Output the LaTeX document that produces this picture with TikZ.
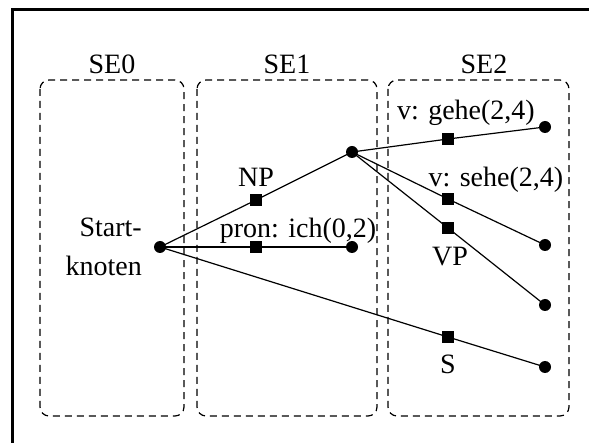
\documentclass[tikz,border=0pt]{standalone}
\usepackage{fontspec}
\setmainfont{Liberation Serif}
\begin{document}
\begin{tikzpicture}[x=1pt,y=-1pt,
  dot/.style={circle,fill=black,inner sep=0pt,minimum size=12pt},
  sq/.style={rectangle,fill=black,inner sep=0pt,minimum size=12pt},
  sebox/.style={draw,dash pattern=on 7pt off 5pt,line width=1.2pt,rounded corners=9pt},
  lbl/.style={inner sep=0pt,font=\fontsize{28}{34}\selectfont},
  edge/.style={line width=1.2pt}]
\useasboundingbox (0,0) rectangle (589,443);
% frame
\draw[line width=3pt] (12,443) -- (12,10) -- (600,10);
% boxes
\draw[sebox] (40,80) rectangle (184,416);
\draw[sebox] (197,80) rectangle (377,416);
\draw[sebox] (388,80) rectangle (569,416);
\node[lbl,anchor=base] (se0) at (112,74) {SE0};
\node[lbl,anchor=base] (se1) at (287,74) {SE1};
\node[lbl,anchor=base] (se2) at (484,74) {SE2};
% nodes
\node[dot] (start) at (160,247) {};
\node[dot] (a) at (352,152) {};
\node[dot] (ich) at (352,247) {};
\node[dot] (gehe) at (545,127) {};
\node[dot] (sehe) at (545,245) {};
\node[dot] (vpe) at (545,305) {};
\node[dot] (se) at (545,367) {};
\node[sq] (np) at (256,200) {};
\node[sq] (pron) at (256,247) {};
\node[sq] (gs) at (448,139) {};
\node[sq] (ss) at (448,199) {};
\node[sq] (vp) at (448,228) {};
\node[sq] (s) at (448,337) {};
% edges
\draw[edge] (start.center) -- (np.center) -- (a.center);
\draw[edge] (start.center) -- (pron.center) -- (ich.center);
\draw[edge] (start.center) -- (s.center) -- (se.center);
\draw[edge] (a.center) -- (gs.center) -- (gehe.center);
\draw[edge] (a.center) -- (ss.center) -- (sehe.center);
\draw[edge] (a.center) -- (vp.center) -- (vpe.center);
% labels
\node[lbl,anchor=base east] (st1) at (142,237) {Start-};
\node[lbl,anchor=base east] (st2) at (142,276) {knoten};
\node[lbl,anchor=base] (npl) at (256,187) {NP};
\node[lbl,anchor=base] (pronl) at (298,238) {pron: ich(0,2)};
\node[lbl,anchor=base] (gl) at (466,120) {v: gehe(2,4)};
\node[lbl,anchor=base] (sl) at (496,187) {v: sehe(2,4)};
\node[lbl,anchor=base] (vpl) at (450,266) {VP};
\node[lbl,anchor=base] (sll) at (448,374) {S};
\end{tikzpicture}
\end{document}
